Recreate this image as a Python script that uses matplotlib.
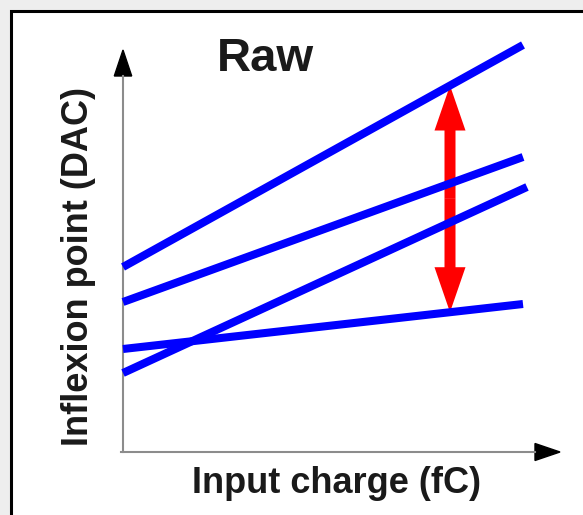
import matplotlib.pyplot as plt
import numpy as np
from matplotlib.patches import Rectangle, Polygon, FancyArrow

plt.rcParams['font.family'] = ['Liberation Sans', 'DejaVu Sans']

# Inflexion point vs input charge, one straight line per channel (raw, before trimming)
charge_start = [0.0, 0.0, 0.0, 0.0]
charge_end = [10.0, 10.0, 10.1, 10.0]
dac_start = [18.5, 15.0, 7.9, 10.3]
dac_end = [40.7, 29.5, 26.5, 14.8]

# spread shown by the red arrow, taken at this charge
spread_charge = 8.175
title = 'Raw'
xlabel = 'Input charge (fC)'
ylabel = 'Inflexion point (DAC)'

W, H = 583, 515
fig = plt.figure(figsize=(W / 100, H / 100), dpi=100)
fig.patch.set_facecolor('#eeeeee')

# white panel with a black frame
fig.add_artist(Rectangle((11 / W, -0.1), 1.2, 1.1 - 10.5 / H, transform=fig.transFigure,
                         facecolor='white', edgecolor='black', lw=2.2, zorder=-5))

x0, y0, x1, y1 = 123, 452, 560, 50
ax = fig.add_axes([x0 / W, 1 - y0 / H, (x1 - x0) / W, (y0 - y1) / H])
ax.set_zorder(2)
ax.set_xlim(0, (x1 - x0) / 40)
ax.set_ylim(0, (y0 - y1) / 10)
ax.axis('off')
ax.patch.set_alpha(0)

# axis lines with black arrowheads
axw, axh = x1 - x0, y0 - y1
ax.plot([0, 0], [0, 1 - 26 / axh], color='#8c8c8c', lw=1.5, transform=ax.transAxes, clip_on=False)
ax.plot([-2 / axw, 1 - 25 / axw], [0, 0], color='#8c8c8c', lw=1.5, transform=ax.transAxes, clip_on=False)
ax.add_patch(Polygon([(0, 1), (-8.7 / axw, 1 - 26 / axh), (8.7 / axw, 1 - 26 / axh)],
                     transform=ax.transAxes, color='black', clip_on=False))
ax.add_patch(Polygon([(1, 0), (1 - 25 / axw, 8.5 / axh), (1 - 25 / axw, -8.5 / axh)],
                     transform=ax.transAxes, color='black', clip_on=False))

for xs, xe, ys, ye in zip(charge_start, charge_end, dac_start, dac_end):
    ax.plot([xs, xe], [ys, ye], color='#0000ff', lw=5.8, solid_capstyle='butt', clip_on=False)

# double-headed arrow between highest and lowest line
top = np.interp(spread_charge, [charge_start[0], charge_end[0]], [dac_start[0], dac_end[0]])
bot = np.interp(spread_charge, [charge_start[3], charge_end[3]], [dac_start[3], dac_end[3]])
mid = (top + bot) / 2
for tip in (top, bot):
    ax.add_patch(FancyArrow(spread_charge, mid, 0, tip - mid, width=11 / 40, head_width=31 / 40,
                            head_length=4.5, length_includes_head=True, color='#ff0000',
                            lw=0, clip_on=False))

fig.text(265 / W, 1 - 59 / H, title, fontsize=34, fontweight='bold', color='#1a1a1a',
         ha='center', va='center')
fig.text(337 / W, 1 - 493 / H, xlabel, fontsize=26, fontweight='bold', color='#1a1a1a',
         ha='center', va='baseline')
fig.text(88 / W, 1 - 266 / H, ylabel, fontsize=26, fontweight='bold', color='#1a1a1a',
         ha='center', va='baseline', rotation=90, rotation_mode='anchor')

fig.savefig('out.png', dpi=100, facecolor=fig.get_facecolor())
